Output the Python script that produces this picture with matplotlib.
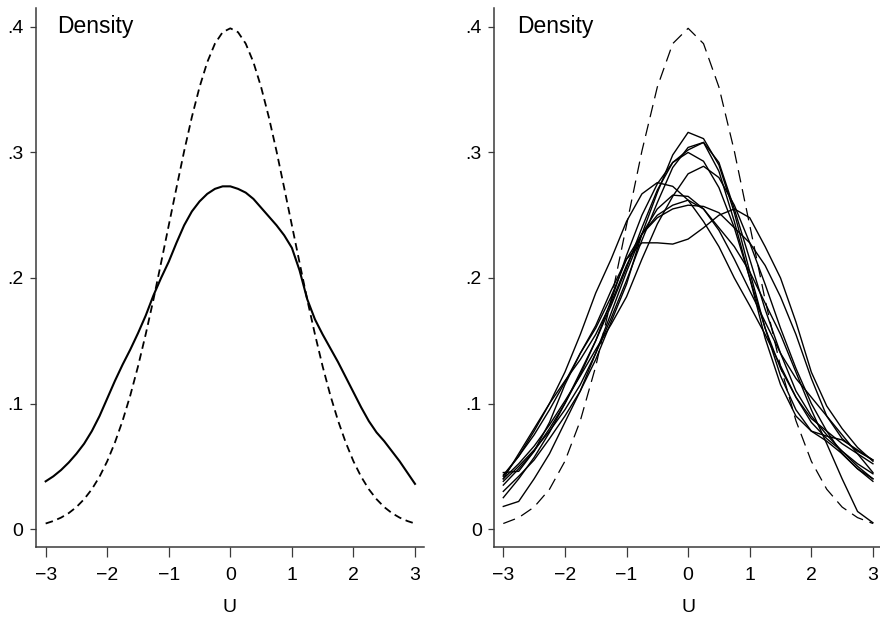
import matplotlib

matplotlib.use("Agg")
import matplotlib.pyplot as plt

# values
U_FINE = [i * 0.125 - 3 for i in range(49)]
U_GRID = [i * 0.25 - 3 for i in range(25)]

NORMAL_FINE = [
    0.0044, 0.0064, 0.0091, 0.0127, 0.0175, 0.0238, 0.0317, 0.0417,
    0.0540, 0.0689, 0.0863, 0.1065, 0.1295, 0.1551, 0.1826, 0.2121,
    0.2420, 0.2718, 0.3011, 0.3282, 0.3521, 0.3719, 0.3867, 0.3958,
    0.3989,
    0.3958, 0.3867, 0.3719, 0.3521, 0.3282, 0.3011, 0.2718, 0.2420,
    0.2121, 0.1826, 0.1551, 0.1295, 0.1065, 0.0863, 0.0689, 0.0540,
    0.0417, 0.0317, 0.0238, 0.0175, 0.0127, 0.0091, 0.0064, 0.0044,
]

NORMAL_GRID = NORMAL_FINE[::2]

MIXED_DENSITY = [
    0.038, 0.042, 0.047, 0.053, 0.060, 0.068, 0.078, 0.090,
    0.104, 0.118, 0.131, 0.143, 0.156, 0.170, 0.186, 0.200,
    0.213, 0.228, 0.242, 0.253, 0.261, 0.267, 0.271, 0.273,
    0.273,
    0.271, 0.268, 0.263, 0.256, 0.249, 0.242, 0.234, 0.224,
    0.206, 0.183, 0.167, 0.155, 0.144, 0.133, 0.121, 0.109,
    0.097, 0.086, 0.077, 0.070, 0.062, 0.054, 0.045, 0.036,
]

SIM_CURVES = [
    [0.030, 0.042, 0.055, 0.072, 0.090, 0.110, 0.135, 0.165, 0.195, 0.235, 0.268, 0.298, 0.316,
     0.311, 0.290, 0.252, 0.205, 0.160, 0.122, 0.095, 0.078, 0.070, 0.060, 0.048, 0.038],
    [0.038, 0.050, 0.063, 0.078, 0.095, 0.115, 0.140, 0.168, 0.198, 0.230, 0.260, 0.288, 0.304,
     0.308, 0.292, 0.255, 0.215, 0.175, 0.140, 0.110, 0.090, 0.075, 0.062, 0.050, 0.040],
    [0.025, 0.040, 0.057, 0.077, 0.100, 0.125, 0.150, 0.178, 0.208, 0.240, 0.270, 0.292, 0.302,
     0.308, 0.285, 0.245, 0.200, 0.152, 0.115, 0.090, 0.078, 0.074, 0.071, 0.063, 0.055],
    [0.035, 0.048, 0.062, 0.080, 0.100, 0.123, 0.150, 0.182, 0.218, 0.250, 0.275, 0.292, 0.300,
     0.293, 0.272, 0.240, 0.200, 0.160, 0.128, 0.105, 0.088, 0.078, 0.068, 0.060, 0.052],
    [0.040, 0.052, 0.066, 0.083, 0.102, 0.122, 0.143, 0.163, 0.185, 0.215, 0.243, 0.265, 0.283,
     0.289, 0.280, 0.258, 0.228, 0.195, 0.160, 0.128, 0.100, 0.078, 0.060, 0.048, 0.040],
    [0.042, 0.058, 0.078, 0.100, 0.125, 0.155, 0.188, 0.215, 0.245, 0.267, 0.276, 0.273, 0.262,
     0.245, 0.225, 0.200, 0.178, 0.155, 0.130, 0.105, 0.085, 0.072, 0.062, 0.052, 0.044],
    [0.045, 0.046, 0.062, 0.085, 0.115, 0.140, 0.160, 0.185, 0.215, 0.228, 0.228, 0.227, 0.231,
     0.240, 0.250, 0.255, 0.248, 0.225, 0.200, 0.165, 0.125, 0.098, 0.080, 0.065, 0.054],
    [0.018, 0.022, 0.040, 0.060, 0.085, 0.110, 0.140, 0.172, 0.205, 0.235, 0.255, 0.266, 0.265,
     0.255, 0.240, 0.225, 0.205, 0.180, 0.155, 0.125, 0.095, 0.068, 0.040, 0.014, 0.005],
    [0.040, 0.060, 0.080, 0.100, 0.118, 0.135, 0.155, 0.180, 0.210, 0.235, 0.250, 0.258, 0.262,
     0.255, 0.238, 0.215, 0.190, 0.165, 0.140, 0.120, 0.105, 0.090, 0.075, 0.060, 0.045],
    [0.043, 0.058, 0.075, 0.095, 0.117, 0.140, 0.162, 0.190, 0.215, 0.235, 0.248, 0.255, 0.258,
     0.257, 0.252, 0.240, 0.228, 0.210, 0.185, 0.155, 0.120, 0.090, 0.072, 0.062, 0.055],
]

Y_TICKS = [0, 0.1, 0.2, 0.3, 0.4]
Y_LABELS = ["0", ".1", ".2", ".3", ".4"]
X_TICKS = [-3, -2, -1, 0, 1, 2, 3]

plt.rcParams.update({
    "font.family": ["Liberation Sans", "DejaVu Sans"],
    "font.size": 14,
    "axes.edgecolor": "#3a3a3a",
    "axes.spines.top": False,
    "axes.spines.right": False,
})


def style_axes(ax, xlim):
    ax.set_xlim(*xlim)
    ax.set_ylim(-0.0143, 0.415)
    ax.set_xticks(X_TICKS)
    ax.set_yticks(Y_TICKS)
    ax.set_yticklabels(Y_LABELS)
    ax.tick_params(axis="x", length=7.5, width=0.9, pad=7, labelsize=14, color="#3a3a3a")
    ax.tick_params(axis="y", length=4.5, width=0.9, pad=4.5, labelsize=14, color="#3a3a3a")
    for side in ("left", "bottom"):
        ax.spines[side].set_linewidth(1.1)
    ax.set_xlabel("U", fontsize=14, labelpad=11)


fig = plt.figure(figsize=(8.8, 6.18), dpi=100)
ax1 = fig.add_axes([0.0409, 0.1149, 0.4409, 0.872])
ax2 = fig.add_axes([0.5617, 0.1149, 0.4405, 0.872])

# left panel: smooth densities
ax1.plot(U_FINE, NORMAL_FINE, color="black", lw=1.3, dashes=(4.2, 2.6))
ax1.plot(U_FINE, MIXED_DENSITY, color="black", lw=1.5)
style_axes(ax1, (-3.157, 3.146))
ax1.text(0.054, 0.953, "Density", transform=ax1.transAxes, fontsize=16.5, va="baseline")

# right panel: simulated densities
ax2.plot(U_GRID, NORMAL_GRID, color="black", lw=0.9, dashes=(10, 5.5))
for curve in SIM_CURVES:
    ax2.plot(U_GRID, curve, color="black", lw=1.0)
style_axes(ax2, (-3.146, 3.146))
ax2.text(0.0585, 0.953, "Density", transform=ax2.transAxes, fontsize=16.5, va="baseline")

fig.savefig("out.png", dpi=100)
